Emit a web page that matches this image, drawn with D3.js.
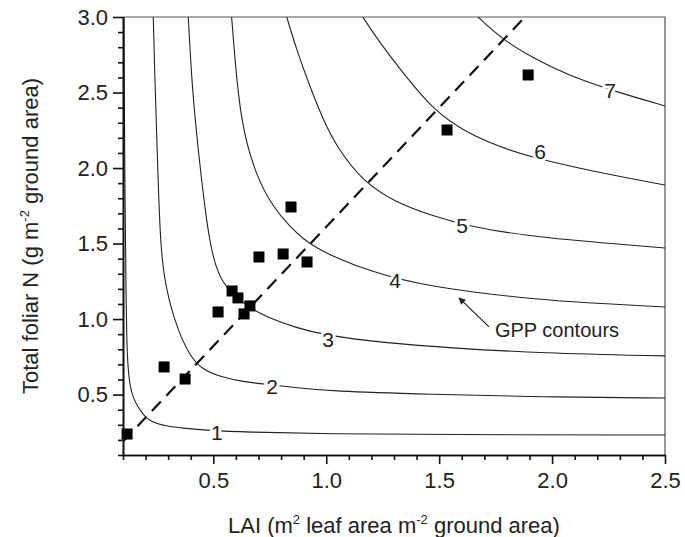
<!DOCTYPE html>
<html>
<head>
<meta charset="utf-8">
<script src="https://d3js.org/d3.v7.min.js"></script>
<style>
    body { margin: 0; background: #fff; }
    svg { font-family: "Liberation Sans", Arial, sans-serif; }
</style>
</head>
<body>
<svg id="drawing_region"></svg>
<script>
// measured stands: LAI vs total foliar N
const lai     = [0.118, 0.282, 0.375, 0.521, 0.583, 0.609, 0.636, 0.662, 0.702, 0.809, 0.915, 0.844, 1.535, 1.894];
const foliarN = [0.239, 0.683, 0.603, 1.047, 1.186, 1.140, 1.034, 1.087, 1.411, 1.431, 1.378, 1.742, 2.252, 2.616];

// dashed line (end points)
const lineLai = [0.10, 1.88];
const lineN   = [0.19, 3.00];

// GPP contours, points [LAI, N]
const gpp1 = [[0.104, 3.0], [0.106, 2.4], [0.108, 2.0], [0.111, 1.5], [0.114, 1.1], [0.117, 0.85],
              [0.121, 0.70], [0.130, 0.56], [0.145, 0.48], [0.165, 0.42], [0.195, 0.355],
              [0.23, 0.315], [0.29, 0.292], [0.36, 0.278], [0.485, 0.262],
              [0.631, 0.252], [1.017, 0.240], [1.5, 0.235], [2.5, 0.232]];
const gpp2 = [[0.234, 3.0], [0.241, 2.6], [0.249, 2.232], [0.258, 1.8], [0.267, 1.5], [0.280, 1.3],
              [0.305, 1.11], [0.345, 0.92], [0.395, 0.76], [0.445, 0.672], [0.530, 0.617],
              [0.631, 0.585], [0.738, 0.568], [0.871, 0.546], [1.017, 0.522], [1.46, 0.502],
              [1.947, 0.484], [2.5, 0.477]];
const gpp3 = [[0.389, 3.0], [0.400, 2.7], [0.411, 2.451], [0.441, 2.007], [0.462, 1.75], [0.480, 1.55],
              [0.505, 1.37], [0.540, 1.245], [0.587, 1.16], [0.662, 1.074], [0.738, 1.012],
              [0.871, 0.941], [0.986, 0.895], [1.269, 0.840], [1.561, 0.808], [1.947, 0.775], [2.5, 0.756]];
const gpp4 = [[0.581, 3.0], [0.604, 2.563], [0.633, 2.232], [0.692, 1.941], [0.764, 1.742],
              [0.840, 1.61], [0.900, 1.528], [0.959, 1.471], [1.030, 1.415], [1.119, 1.360],
              [1.269, 1.284], [1.415, 1.232], [1.637, 1.179], [1.947, 1.130], [2.124, 1.110], [2.5, 1.08]];
const gpp5 = [[0.825, 3.0], [0.869, 2.782], [0.928, 2.537], [0.987, 2.318], [1.046, 2.14],
              [1.163, 1.908], [1.313, 1.769], [1.46, 1.689], [1.637, 1.61], [1.947, 1.537], [2.5, 1.471]];
const gpp6 = [[1.162, 3.0], [1.238, 2.828], [1.34, 2.63], [1.473, 2.385], [1.623, 2.232],
              [1.77, 2.14], [1.902, 2.073], [2.212, 1.968], [2.5, 1.888]];
const gpp7 = [[1.672, 3.0], [1.783, 2.848], [1.916, 2.729], [2.066, 2.617], [2.257, 2.517], [2.5, 2.411]];

const gppLevels = [1, 2, 3, 4, 5, 6, 7];
const labelLai  = [0.516, 0.760, 1.008, 1.305, 1.601, 1.947, 2.257];
const labelN    = [0.252, 0.557, 0.862, 1.259, 1.617, 2.107, 2.517];

// tick labels
const xTicks = [0.5, 1.0, 1.5, 2.0, 2.5];
const yTicks = [0.5, 1.0, 1.5, 2.0, 2.5, 3.0];

// annotation arrow: tail -> head, text start
const arrowLai = [1.721, 1.588];
const arrowN   = [0.948, 1.140];
const noteText = "GPP contours";
const notePos  = [1.747, 0.881];

var config = {
    parent: '#drawing_region',
    width: 685,
    height: 537,
    margin: { top: 17, right: 20, bottom: 82, left: 123 },
    xdomain: [0.1, 2.5],
    ydomain: [0.1, 3.0],
};

const plot = new ContourPlot(config);
plot.render();

function ContourPlot(config) {
    let self = this;
    self.config = config;

    self.svg = d3.select(config.parent)
        .attr('width', config.width)
        .attr('height', config.height);

    self.inner_width = config.width - config.margin.left - config.margin.right;
    self.inner_height = config.height - config.margin.top - config.margin.bottom;

    self.chart = self.svg.append('g')
        .attr('transform', `translate(${config.margin.left}, ${config.margin.top})`);

    self.xscale = d3.scaleLinear().domain(config.xdomain).range([0, self.inner_width]);
    self.yscale = d3.scaleLinear().domain(config.ydomain).range([self.inner_height, 0]);

    self.render = function() {
        const xs = self.xscale, ys = self.yscale;
        const W = self.inner_width, H = self.inner_height;

        self.svg.append('defs').append('clipPath').attr('id', 'clip')
            .append('rect').attr('width', W).attr('height', H);

        // frame (top / right)
        self.chart.append('path')
            .attr('d', `M0,0H${W}V${H}`)
            .attr('fill', 'none')
            .attr('stroke', '#555')
            .attr('stroke-width', 1.2);

        // contours
        const line = d3.line()
            .x(d => xs(d[0]))
            .y(d => ys(d[1]))
            .curve(d3.curveBasis);

        const contours = [gpp1, gpp2, gpp3, gpp4, gpp5, gpp6, gpp7];
        self.chart.append('g')
            .attr('clip-path', 'url(#clip)')
            .selectAll('path')
            .data(contours)
            .join('path')
            .attr('d', line)
            .attr('fill', 'none')
            .attr('stroke', '#222')
            .attr('stroke-width', 1.1);

        // contour labels (white halo breaks the line)
        self.chart.append('g')
            .selectAll('text')
            .data(gppLevels)
            .join('text')
            .attr('x', (d, i) => xs(labelLai[i]))
            .attr('y', (d, i) => ys(labelN[i]))
            .attr('dy', '0.36em')
            .attr('text-anchor', 'middle')
            .attr('font-size', '21px')
            .attr('fill', '#222')
            .attr('stroke', '#fff')
            .attr('stroke-width', 6)
            .attr('paint-order', 'stroke')
            .text(d => d);

        // dashed line
        self.chart.append('line')
            .attr('x1', xs(lineLai[0])).attr('y1', ys(lineN[0]))
            .attr('x2', xs(lineLai[1])).attr('y2', ys(lineN[1]))
            .attr('stroke', '#111')
            .attr('stroke-width', 2.2)
            .attr('stroke-dasharray', '13,8');

        // squares
        const s = 11;
        self.chart.append('g')
            .selectAll('rect')
            .data(lai)
            .join('rect')
            .attr('x', (d, i) => xs(d) - s / 2)
            .attr('y', (d, i) => ys(foliarN[i]) - s / 2)
            .attr('width', s)
            .attr('height', s)
            .attr('fill', '#000');

        // annotation
        self.svg.append('defs').append('marker')
            .attr('id', 'head')
            .attr('viewBox', '0 0 10 10')
            .attr('refX', 9).attr('refY', 5)
            .attr('markerWidth', 9).attr('markerHeight', 7)
            .attr('markerUnits', 'userSpaceOnUse')
            .attr('orient', 'auto')
            .append('path')
            .attr('d', 'M0,0L10,5L0,10z')
            .attr('fill', '#222');

        self.chart.append('line')
            .attr('x1', xs(arrowLai[0])).attr('y1', ys(arrowN[0]))
            .attr('x2', xs(arrowLai[1])).attr('y2', ys(arrowN[1]))
            .attr('stroke', '#222')
            .attr('stroke-width', 1.2)
            .attr('marker-end', 'url(#head)');

        self.chart.append('text')
            .attr('x', xs(notePos[0]))
            .attr('y', ys(notePos[1]))
            .attr('font-size', '20px')
            .attr('fill', '#222')
            .text(noteText);

        // axes
        const xminor = d3.range(1, 26).map(d => d / 10).filter(d => !xTicks.some(t => Math.abs(t - d) < 1e-6));
        const yminor = d3.range(1, 31).map(d => d / 10).filter(d => !yTicks.some(t => Math.abs(t - d) < 1e-6));

        const xaxis_group = self.chart.append('g').attr('transform', `translate(0, ${H})`);
        xaxis_group.append('g')
            .call(d3.axisBottom(xs).tickValues(xminor).tickSize(5).tickSizeOuter(0).tickFormat(''));
        xaxis_group.append('g')
            .call(d3.axisBottom(xs).tickValues(xTicks).tickSize(9).tickSizeOuter(0)
                .tickPadding(8).tickFormat(d3.format('.1f')));

        const yaxis_group = self.chart.append('g');
        yaxis_group.append('g')
            .call(d3.axisLeft(ys).tickValues(yminor).tickSize(5).tickSizeOuter(0).tickFormat(''));
        yaxis_group.append('g')
            .call(d3.axisLeft(ys).tickValues(yTicks).tickSize(10).tickSizeOuter(0)
                .tickPadding(5).tickFormat(d3.format('.1f')));

        self.chart.selectAll('.domain, .tick line')
            .attr('stroke', '#111')
            .attr('stroke-width', 1.6);
        self.chart.selectAll('.tick text')
            .attr('font-size', '22px')
            .attr('font-family', '"Liberation Sans", Arial, sans-serif')
            .attr('fill', '#222');

        // xlabel
        const xl = self.svg.append('text')
            .attr('x', config.margin.left + W / 2)
            .attr('y', 533)
            .attr('text-anchor', 'middle')
            .attr('font-size', '22px')
            .attr('fill', '#222');
        xl.append('tspan').text('LAI (m');
        xl.append('tspan').attr('font-size', '13px').attr('dy', '-9').text('2');
        xl.append('tspan').attr('dy', '9').text(' leaf area m');
        xl.append('tspan').attr('font-size', '13px').attr('dy', '-9').text('-2');
        xl.append('tspan').attr('dy', '9').text(' ground area)');

        // ylabel
        const yl = self.svg.append('text')
            .attr('transform', `translate(38, ${config.margin.top + H / 2}) rotate(-90)`)
            .attr('text-anchor', 'middle')
            .attr('font-size', '22px')
            .attr('fill', '#222');
        yl.append('tspan').text('Total foliar N (g m');
        yl.append('tspan').attr('font-size', '13px').attr('dy', '-9').text('-2');
        yl.append('tspan').attr('dy', '9').text(' ground area)');
    };
}
</script>
</body>
</html>
